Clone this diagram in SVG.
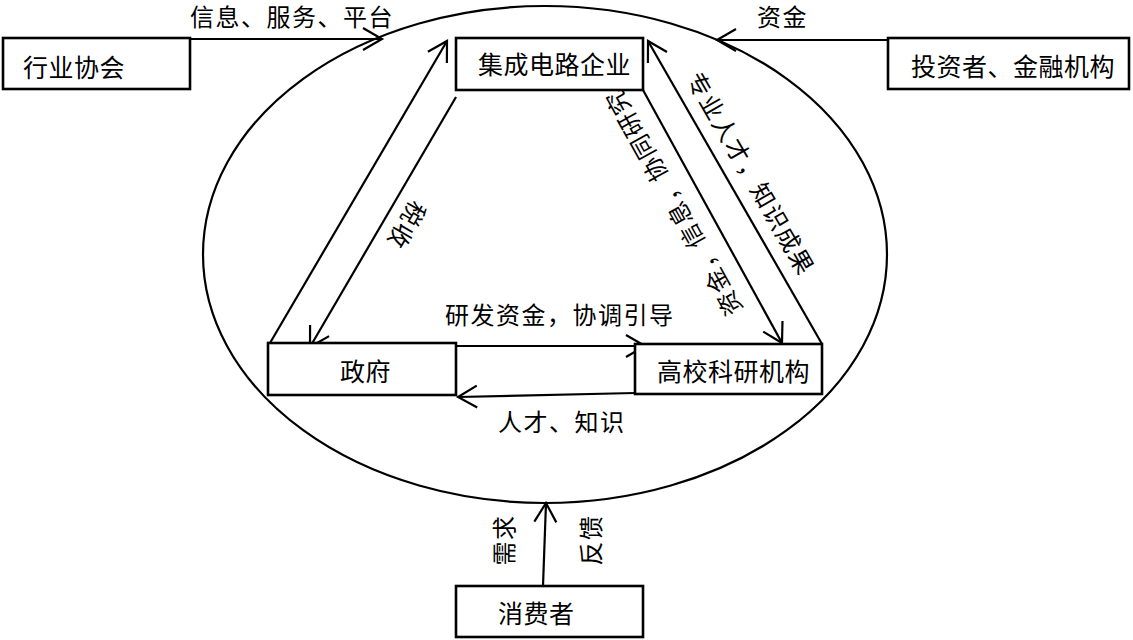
<svg xmlns="http://www.w3.org/2000/svg" width="1133" height="640" viewBox="0 0 1133 640">
<defs>
<style>
.box{fill:#fff;stroke:#000;stroke-width:2.6}
.t{font-family:"Noto Sans CJK SC","Noto Sans",sans-serif;font-size:24px;letter-spacing:1.5px;fill:#000}
.n{font-size:25px;letter-spacing:0.5px}
.c{text-anchor:middle;dominant-baseline:central}
.ln{fill:none;stroke:#000;stroke-width:2.2;marker-end:url(#ah)}
</style>
<marker id="ah" markerUnits="userSpaceOnUse" markerWidth="30" markerHeight="30" viewBox="-25 -15 30 30" refX="0" refY="0" orient="auto">
<path d="M-19,-11 L0,0 L-19,11" fill="none" stroke="#000" stroke-width="2.2"/>
</marker>
</defs>
<rect width="1133" height="640" fill="#fff"/>
<ellipse id="system" cx="545" cy="254.5" rx="342" ry="248.5" fill="none" stroke="#000" stroke-width="2.2"/>
<g id="connectors">
<line class="ln" x1="190" y1="39" x2="382" y2="39"/>
<line class="ln" x1="888" y1="40" x2="717" y2="40"/>
<line class="ln" x1="270" y1="343" x2="447" y2="41"/>
<line class="ln" x1="456" y1="97" x2="310" y2="347"/>
<line class="ln" x1="643" y1="90" x2="782" y2="343"/>
<line class="ln" x1="822" y1="344" x2="648" y2="41"/>
<line class="ln" x1="456" y1="346" x2="645" y2="346"/>
<line class="ln" x1="635" y1="393" x2="458" y2="397"/>
<line class="ln" x1="543" y1="586" x2="546" y2="503"/>
<text class="t" x="190" y="26">信息、服务、平台</text>
<text class="t" x="757" y="26">资金</text>
<text class="t c" transform="translate(408 226) rotate(120)">税收</text>
<text class="t c" transform="translate(672 203) rotate(241)">资金，信息，协同研究</text>
<text class="t c" transform="translate(752 173) rotate(60)">专业人才，知识成果</text>
<text class="t" x="445" y="324">研发资金，协调引导</text>
<text class="t" x="498" y="431">人才、知识</text>
<text class="t c" transform="translate(502 540) rotate(-90)">需求</text>
<text class="t c" transform="translate(589 540) rotate(-90)">反馈</text>
</g>
<g id="n-hyxh"><rect class="box" x="3" y="38" width="187" height="51"/><text class="t n" x="23" y="77">行业协会</text></g>
<g id="n-tzz"><rect class="box" x="888" y="38" width="241" height="51"/><text class="t n" x="911" y="76">投资者、金融机构</text></g>
<g id="n-jcdl"><rect class="box" x="456" y="38" width="187" height="52"/><text class="t n" x="478" y="74">集成电路企业</text></g>
<g id="n-zf"><rect class="box" x="268" y="343" width="188" height="52"/><text class="t n" x="340" y="381">政府</text></g>
<g id="n-gx"><rect class="box" x="635" y="344" width="187" height="50"/><text class="t n" x="657" y="381">高校科研机构</text></g>
<g id="n-xfz"><rect class="box" x="456" y="586" width="187" height="51"/><text class="t n" x="498" y="623">消费者</text></g>
</svg>
